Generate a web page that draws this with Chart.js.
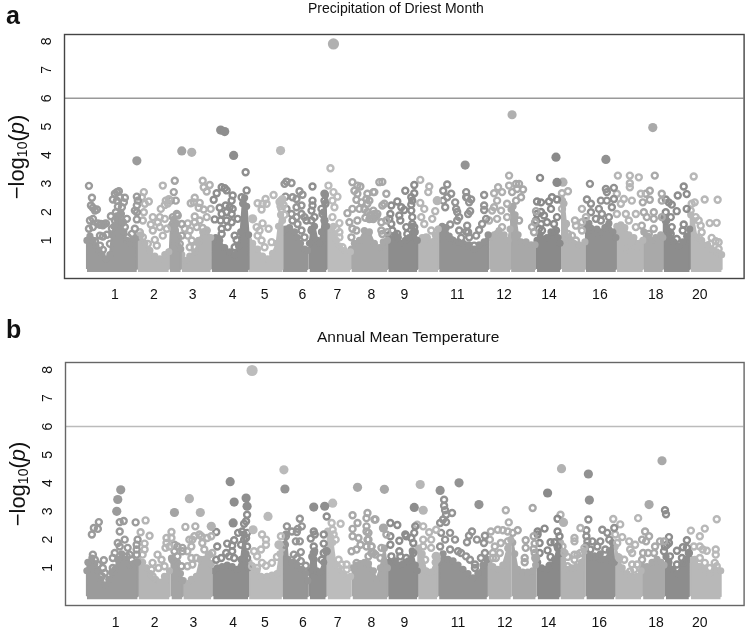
<!DOCTYPE html>
<html><head><meta charset="utf-8">
<script src="https://cdn.jsdelivr.net/npm/chart.js@4"></script>
<style>
html,body{margin:0;padding:0;background:#fff;width:750px;height:629px;overflow:hidden;font-family:"Liberation Sans",sans-serif;color:#111}
canvas{position:absolute;left:0}
.t{position:absolute;white-space:nowrap;line-height:1}
.yl{position:absolute;white-space:nowrap;font-size:22px;line-height:22px;transform:translate(-50%,-50%) rotate(-90deg)}
.yl sub{font-size:14px;vertical-align:-3px;line-height:0}
</style></head><body>
<canvas id="ca" width="750" height="312" style="top:0"></canvas>
<canvas id="cb" width="750" height="317" style="top:312px"></canvas>
<div class="t" style="left:6px;top:3px;font-size:25px;font-weight:bold">a</div>
<div class="t" style="left:6px;top:317px;font-size:25px;font-weight:bold">b</div>
<div class="t" style="left:308px;top:1px;font-size:14px">Precipitation of Driest Month</div>
<div class="t" style="left:317px;top:329px;font-size:15.5px">Annual Mean Temperature</div>
<div class="yl" style="left:17px;top:157px">−log<sub>10</sub>(<i>p</i>)</div>
<div class="yl" style="left:18px;top:484px">−log<sub>10</sub>(<i>p</i>)</div>
<script>
const yTicks=[1,2,3,4,5,6,7,8];
const xLabels=["1","2","3","4","5","6","7","8","9","11","12","14","16","18","20"];
const xTicksA=[115,154,193,233,265,303,338,372,405,458,505,550,601,657,701];
const xTicksB=[116,155,194,234,266,304,339,373,406,460,507,551,602,659,703];
const threshold=6;
const bandGreys=["#9b9b9b","#b5b5b5","#a4a4a4","#b2b2b2","#8e8e8e","#bababa","#959595","#8f8f8f","#bcbcbc","#a8a8a8","#8d8d8d","#b6b6b6","#939393","#b0b0b0","#a8a8a8","#8a8a8a","#b2b2b2","#919191","#b6b6b6","#a9a9a9","#8d8d8d","#b8b8b8"];

// dense lower mass of each chromosome block: position, upper -log10(p)
const massA=[
[87,1.0,90,1.15,93,1.0,96,.8,99,.65,102,.5,106,.35,110,.5,112,1.2,114,1.5,117,1.75,120,1.9,122,1.6,124,1.3,127,1.0,130,.9,134,1.05,137,1.1],
[138,1.1,141,1.2,145,.9,150,.65,155,.45,160,.35,165,.5,169,.6],
[170,.6,171,1.5,174,1.75,177,1.6,179,1.1,181,.7],
[182,.5,186,.3,190,.45,195,.6,199,1.0,203,1.3,207,1.35,211,1.1],
[212,.9,216,1.1,220,1.0,225,.75,230,.6,235,.5,239,.8,241,1.3,243,2.3,245,2.5,247,2.2,249,1.2],
[249,1.0,253,.9,258,.7,263,.45,268,.35,273,.55,277,.9,279,1.5,281,1.9,283,1.7],
[283,1.3,286,1.4,290,1.45,295,1.3,298,1.1,301,.9,305,.7,308,.65],
[310,.9,312,1.4,315,1.5,318,1.0,320,.9,322,1.3,324,2.0,326,2.6,327,1.5],
[328,1.5,331,1.4,334,1.5,337,1.0,340,.8,345,.65,351,.6],
[352,.7,355,.9,360,1.0,365,1.35,370,1.3,375,.9,380,.75,384,.95,388,1],
[389,1.2,392,1.05,396,1.2,399,1.1,402,.9,406,1.0,410,1.1,413,1.5,416,1.3,418,1.0],
[419,1.0,423,1.1,428,1.1,432,.95,436,1.2,439,1.4],
[440,1.4,443,1.5,447,1.45,450,1.15,454,1.0,459,.95,464,.9,470,.85,475,.7,480,.85,485,.95,489,1.2],
[491,1.1,495,1.2,500,1.35,505,1.2,509,1.0,511,1.4],
[512,2.1,514,2.2,516,1.9,519,1.2,522,.95,527,.95,532,.85,536,.85],
[538,1.0,541,1.2,544,1.05,548,1.1,552,1.3,556,1.3,559,1.1,561,.9],
[563,2.4,565,2.3,567,1.6,570,1.0,575,.9,580,.85,586,.95],
[587,1.7,590,1.6,594,1.35,598,1.4,602,1.3,606,1.45,610,1.6,614,1.3,617,1.1],
[618,1.5,622,1.55,626,1.45,630,1.2,635,1.1,640,.9,644,1.0],
[645,1.3,649,1.15,653,1.0,657,1.1,662,1.2,664,1.1],
[665,1.8,668,1.7,671,1.3,675,.95,680,.8,684,.95,688,1.15,691,1.4],
[692,1.9,695,1.7,698,1.1,703,1.0,709,.85,713,.7,718,.6,723,.5]];

const ringsA=[
[89,2.92,92,2.5,91,2.23,93,2.15,97,2.09,95,2.05,90,1.7,93,1.76,89,1.41,93,1.47,98,1.6,101,1.58,104,1.58,106,1.6,100,1.55,103,1.53,100,1.17,107,1.2,103,1.14,95,.97,100,.82,103,.67,110,.88,112,1.41,111,1.85,117,2.7,119,2.73,115,2.64,113,2.44,117,2.4,125,2.5,124,2.34,120,2.52,118,2.19,122,2.17,116,1.99,117,1.84,121,1.93,127,1.76,123,1.64,120,1.58,128,1.11,135,1.41,132,1.23,115,1.7,125,1.47,137,1.74,137,1.99,137,2.23,137,2.54,138,2.4,135,2.05],
[144,2.7,142,2.52,149,2.37,145,2.29,144,1.99,143,1.7,163,2.93,161,2.11,166,2.4,168,2.3,165,2.25,169,2.45,153,1.82,160,1.82,151,1.56,158,1.64,153,1.35,160,1.47,167,1.41,148,.88,155,1.02,163,1.17,157,.82,143,1.11,140,1.29,165,1.76],
[175,3.1,174,2.7,176,2.4,171,2.4,177,1.93,173,1.82,178,1.88,182,1.58,182,1.17,180,.88,173,1.58,175,1.35],
[203,3.1,210,2.95,204,2.87,207,2.72,195,2.5,191,2.31,200,2.32,194,2.34,199,2.15,204,2.09,211,2.11,195,1.84,200,1.7,207,1.82,188,1.6,195,1.64,185,1.41,190,1.35,188,1.17,192,1,190,.76,195,.76,199,.97,203,1.44,207,1.35,197,1.47],
[246,3.4,247,2.76,222,2.87,225,2.84,227,2.76,217,2.66,214,2.43,233,2.58,232,2.4,242,2.52,220,2.15,226,2.23,230,2.17,233,2.11,222,1.93,227,2,232,1.93,215,1.74,221,1.7,227,1.7,232,1.64,222,1.41,228,1.47,222,1.23,235,1.17,237,1.02,235,.76,238,1.76],
[274,2.6,258,2.31,266,2.46,263,2.29,262,2.09,267,2.29,257,1.47,263,1.6,260,1.35,269,1.41,258,1.17,262,1,265,.76,272,.94,280,2.35,283,2.45,281,2.2,284,2.25,282,2.1,285,1.9],
[285,2.99,287,3.07,292,3.02,286,2.54,293,2.52,300,2.73,303,2.61,297,2.46,302,2.23,297,2.17,292,1.93,297,1.82,302,1.93,305,1.82,293,1.7,298,1.58,287,2.11,302,1.35,305,1.11],
[313,2.9,313,2.4,313,2.23,312,2.05,312,1.7,315,1.82,307,1.7,312,1.35,322,2.11,325,2.64,325,2.4,323,1.93,326,2.29,325,1.7],
[331,3.54,329,2.93,334,2.7,338,2.54,333,2.4,335,2.17,333,1.82,340,1.61,337,1.41,340,1.29,340,1.11,343,.76],
[353,3.05,358,2.93,361,2.9,355,2.75,358,2.64,357,2.43,368,2.64,374,2.7,367,2.46,368,2.29,380,3.05,362,2.34,348,1.96,353,2.11,360,2.11,350,1.64,358,1.7,353,1.41,352,1.11,357,1.35,378,1.93,365,2.1,368,2,371,1.9,374,2.05,366,1.8,370,1.75,374,1.75,377,1.85,383,3.06,375,2.7,387,2.64,383,2.23,370,2.4,375,1.93,382,1.64,387,1.7,382,1.35,388,1.29,385,2.29,372,1.76,383,1.23],
[415,2.95,406,2.75,415,2.66,412,2.52,413,2.4,412,2.26,398,2.37,392,2.23,402,2.17,405,2.07,412,2.05,391,1.93,390,1.76,400,1.88,401,1.7,407,1.47,413,1.82,415,1.47,392,1.58,393,1.35,398,1.23,408,1.23,413,1.58],
[421,3.13,430,2.9,429,2.7,421,2.32,425,2.11,436,2.03,433,1.76,425,1.58,432,1.35,427,1.11,422,1.82],
[448,2.97,444,2.75,452,2.64,444,2.4,448,2.52,456,2.34,446,2.17,451,1.56,458,2,460,1.82,460,1.35,468,1.52,467,1.31,469,1.29,462,1.09,470,1.11,453,1,485,2.6,485,2.23,485,2.07,487,1.76,483,1.58,480,1.37,477,1.17,467,.82,475,.82,468,2.52,467,2.7,472,2.44,470,2.34,471,2.03,469,1.93,467,2.52,457,2.11,458,1.7],
[499,2.87,495,2.66,503,2.7,498,2.4,510,3.28,510,2.93,495,2.17,502,2.05,498,1.76,490,1.7,503,1.47,498,1.23,493,2.05,508,1.82,508,2.29],
[513,2.7,517,2.99,520,2.99,524,2.79,522,2.52,518,2.81,517,2.4,515,1.7,520,1.7,533,1.47,536,1.64,537,2.03,535,1.29],
[541,3.2,538,2.37,542,2.34,553,2.52,550,2.37,558,2.44,552,2.11,538,1.93,545,1.88,542,2,537,1.7,542,1.58,548,1.64,555,1.58,540,1.41,543,1.35,558,1.82,557,1.35],
[563,2.66,569,2.73,563,2.4,563,2.11,583,2.11,576,1.7,583,1.64,567,1.58,577,1.52,583,1.35,569,1.23,573,1.17,570,1.05,577,1,587,1.82],
[591,2.99,607,2.81,608,2.7,615,2.85,588,2.44,592,2.29,602,2.4,608,2.4,615,2.46,592,1.99,600,2.11,603,1.93,597,1.76,602,1.7,588,1.47,592,1.41,610,1.82,608,1.47,600,1.23,613,2.17],
[619,3.28,631,3.28,640,3.22,631,3.01,631,2.87,618,2.64,633,2.4,625,2.46,622,2.29,642,2.64,637,1.93,627,1.93,618,1.93,630,1.7,623,1.47,633,.76,637,.7,628,.7,637,1.47],
[656,3.28,647,2.64,651,2.75,651,2.43,644,2.34,645,1.99,655,1.99,655,1.76,648,1.82,643,1.52,655,1.41,650,1.23,663,2.64,663,2.4,663,1.82],
[685,2.9,679,2.58,688,2.63,667,2.44,670,2.34,673,2.26,678,2.03,688,2.11,667,1.99,672,1.82,685,1.56,684,1.35,673,1.47,672,1.23,678,1.05,667,1.7],
[695,3.25,706,2.44,719,2.43,693,2.29,696,2.34,692,2.05,711,1.61,718,1.62,697,1.82,700,1.7,702,1.52,703,1.29,700,1.11,713,1.09,720,.94,717,.97,712,.88,720,.7]];

const hitsA=[[137,3.8],[],[182,4.15],[192,4.1],[221,4.88,225,4.83,234,3.99],[281,4.16,253,1.76,282,2.4],[],[],[],[],[],[438,2.4],[466,3.65],[513,5.42],[],[557,3.93,558,3.04],[564,3.05],[607,3.85],[],[654,4.97],[],[]];
const peakA=[334,7.91];

const massB=[
[87,.9,88,1.2,92,1.35,95,1.15,98,.9,101,.6,105,.4,109,.6,112,.85,115,.95,118,1.3,122,1.5,126,1.3,130,1.1,134,1.15,138,1.2],
[139,1.25,143,1.2,147,1.0,151,.8,156,.6,160,.5,165,.7,170,.9],
[172,1.35,175,1.25,178,1.2,181,.8,183,.55],
[184,.55,188,.45,192,.6,197,.7,201,1.3,205,1.3,209,1.45,212,1.15],
[214,.9,218,1.0,223,1.05,228,1.1,233,1.05,238,.95,242,1.3,245,2.2,247,1.5,249,1.0],
[250,1.2,253,1.0,258,.9,262,.7,268,.7,273,.75,278,.8,281,1.5,283,1.7],
[284,1.5,287,2.2,289,1.3,293,1.2,298,1.1,303,.95,307,.8,309,.55],
[311,.9,313,1.4,316,1.6,318,.9,321,.85,325,1.2,327,1.6],
[329,2.3,332,2.1,334,1.9,337,1.1,340,.9,345,.8,352,.7],
[354,1.0,358,1.1,362,1.15,366,1.2,370,1.15,375,.9,378,.6,382,1.0,386,1.7,389,1.0],
[390,1.2,393,1.2,397,1.25,401,1.1,405,1.15,410,1.25,414,1.6,417,1.1,419,.9],
[420,1.7,424,1.5,428,.9,433,.85,437,1.2,439,1.3],
[441,1.2,445,1.5,450,1.3,455,1.25,460,1.1,465,.95,470,.8,475,.65,480,.8,485,1.1,489,1.3],
[491,1.2,495,1.05,500,.95,505,1.1,510,1.7,513,2],
[515,1.9,517,1.5,520,.95,525,.85,530,.85,535,.9,538,1.1],
[540,1.2,544,1.0,549,.95,553,1.1,557,1.3,560,1.7,562,1.5],
[563,1.9,566,1.5,569,.95,574,1.0,579,1.05,584,1.2,587,1.6],
[589,1.8,593,1.4,598,1.4,603,1.5,608,1.3,612,1.6,615,1.9,617,1.2],
[618,1.75,621,1.4,625,1.0,630,.8,635,.7,640,.7,644,.9],
[646,1.05,650,1.05,655,1.2,660,1.3,664,1.2,667,1.1],
[669,1.4,672,1.2,676,.95,680,.8,685,1.1,689,1.3,692,1.5],
[694,1.3,698,1.3,703,1.05,708,.95,713,.8,718,.95,724,.9]];

const ringsB=[
[92,2.18,94,2.41,99,2.62,98,2.38,93,1.47,95,1.29,104,1.27,98,1.12,103,1,105,.82,102,.71,113,1.35,120,2.62,124,2.66,120,2.29,136,2.61,118,1.88,125,2,128,1.71,120,1.76,138,2,137,1.82,137,1.65,137,1.47,130,1.47,132,1.29,115,1.53,113,1,127,1.41],
[146,2.68,141,2.26,150,2.14,145,1.86,145,1.65,143,1.47,158,1.47,153,1.18,162,1.29,152,.94,153,.71,159,1,165,1.06,166,1.71,172,2.27,172,2.06,167,2.06,167,1.88,170,1.76],
[175,1.82,178,1.76,183,1.71,183,1.59,178,1.41,175,1.59,173,1.29,182,1.06],
[186,2.45,196,2.47,190,2,195,2.12,200,2.18,202,2.12,193,2,192,1.76,188,1.59,192,1.35,197,1.35,188,1.06,193,1.12,208,2.06,212,2.12,203,1.88,205,1.65,213,1.53,210,1.47],
[217,2.27,218,1.76,228,1.86,233,1.79,235,1.98,239,2.24,242,1.82,245,1.35,248,1.35,248,1.76,227,1.53,233,1.59,230,1.41,217,1.29,222,1.35,235,1.35,248,2.88,247,2.65,245,2.56,243,2.29,247,2.06,248,2.24,245,2],
[263,2.18,267,2,267,1.82,255,1.59,262,1.65,258,1.41,263,1.18,267,1.08,273,1.18,278,1.39,282,2.12,253,1.06,258,1],
[288,2.47,293,2.29,298,2.27,301,2.74,303,2.47,299,2.38,297,1.94,301,1.94,287,2.12,286,1.82,295,1.47,302,1.56,298,1.35,302,1.24,307,1.08],
[312,2.04,315,2.29,316,2.18,315,1.76,315,1.53,315,1.29,325,2.18,325,1.86,325,1.53,328,1.59,323,1.29,328,2.82],
[333,2.59,342,2.56,334,2.35,335,2.18,337,2,340,1.29,343,1.12,348,1.12,348,.94,340,1],
[354,2.86,359,2.59,354,2.38,354,2.12,360,2.06,369,2.94,368,2.76,377,2.71,368,2.47,368,2.29,369,2,362,1.82,368,1.76,373,1.76,353,1.59,358,1.65,373,1.53,377,1.47,370,1.41,358,1.18,376,2.71,370,2.24,370,2,373,1.76,375,1.53,382,1.35,383,1.71,388,2.18],
[392,2.59,399,2.52,407,2.18,401,1.96,413,2.06,408,2.12,417,2.47,416,2.24,392,2.12,392,1.82,415,1.88,401,1.59,402,1.41,393,1.41,408,1.35,415,1.53],
[419,2.53,425,2.47,431,2.26,425,2,433,2,433,1.71,425,1.76,427,1.29,420,1.65,438,2.35],
[446,3.41,446,3.2,447,3.04,454,2.94,448,2.88,448,2.62,442,2.59,445,2.71,443,2.24,452,2.24,457,2,447,2,442,1.76,452,1.65,460,1.59,463,1.53,468,1.41,472,1.29,477,1.12,474,2.29,471,2.14,469,1.91,479,2,487,2.14,486,1.88,487,1.53,483,1.35,477,1],
[508,3.04,511,2.61,493,2.29,500,2.35,505,2.33,510,2.29,492,2,497,1.76,503,1.88,495,1.53,502,1.53,498,1.35,510,1.94,495,1.35],
[535,3.12,520,2.33,515,2.24,528,1.98,536,2.12,528,1.71,537,1.86,536,1.67,527,1.35,527,1.2,537,1.53],
[547,2.39,540,2.29,542,1.88,553,1.91,557,1.91,550,1.62,553,1.39,552,1.08,560,2.74,560,2.29,562,2.12,560,1.76,540,2.18,542,1.53],
[563,2.88,577,2.06,577,1.94,583,2.41,570,1.39,577,1.47,580,1.47,583,1.53,577,1.29,570,1.06,587,1.71,565,1.76,567,1.53],
[591,2.71,589,2.33,589,2.12,605,2.35,610,2.24,617,2.41,590,1.94,595,1.94,603,1.94,612,2,600,1.76,593,1.65,608,1.65,602,1.35,612,1.29,597,1.41],
[616,2.73,623,2.54,641,2.76,618,2.18,625,2.09,632,1.94,638,1.82,620,1.88,633,1.65,635,1.53,622,1.35,627,1.29,635,1.12,640,1.12,633,.88,637,.94],
[648,2.29,652,2.12,645,2,649,1.94,646,1.53,651,1.53,658,1.76,657,1.53,663,1.94,667,1.94,645,1.29],
[668,3.04,669,2.9,672,2.09,672,1.88,668,1.76,667,1.59,680,1.61,686,1.73,690,1.98,690,1.71,692,1.53,673,1.41,685,1.35,680,1.12,687,1.18,670,1.82],
[694,2.32,708,2.39,720,2.72,703,2.12,697,1.76,703,1.76,706,1.65,710,1.61,719,1.65,719,1.47,718,1.18,720,1.06,703,1.35,713,1,708,1.18]];

const hitsB=[[121,3.76,118,3.42,117,3],[],[175,2.96],[190,3.45,201,2.96,212,2.47],[231,4.05,235,3.33,247,3.47,248,3.18,234,2.59],[269,2.82,254,2.35,280,1.82,285,4.47],[286,3.79],[315,3.15,326,3.18],[334,3.29],[359,3.85,386,3.78,385,2.41],[416,3.14],[422,3.95,425,3.04,438,1.41],[442,3.74,461,4.01,481,3.24],[],[538,1.35],[550,3.65],[564,4.51,566,2.61],[591,4.32,592,3.4],[],[652,3.24,665,4.79],[],[]];
const peakB=[253,7.98];

const pts=f=>{const o=[];for(let i=0;i<f.length;i+=2)o.push({x:f[i],y:f[i+1]});return o};
const framePlugin={id:'frame',afterDraw(c,_,o){const a=c.chartArea,g=c.ctx;g.save();g.strokeStyle=o.color;g.lineWidth=o.width;g.strokeRect(a.left+.5,a.top+.5,a.width,a.height);g.restore()}};

function panel(id,mass,rings,hits,peak,xTicks,cfg){
  const ds=[];
  rings.forEach((r,i)=>ds.push({data:pts(r),showLine:false,pointStyle:'circle',pointRadius:3,pointBorderWidth:2.4,pointBackgroundColor:'rgba(0,0,0,0)',pointBorderColor:bandGreys[i],order:2}));
  hits.forEach((h,i)=>{if(h.length)ds.push({data:pts(h),showLine:false,pointRadius:4.6,pointBorderWidth:0,pointBackgroundColor:bandGreys[i],order:1})});
  ds.push({data:pts(peak),showLine:false,pointRadius:5.6,pointBorderWidth:0,pointBackgroundColor:cfg.peak,order:1});
  mass.forEach((m,i)=>{const p=pts(m);p.unshift({x:m[0],y:0});p.push({x:m[m.length-2],y:0});
    ds.push({data:p,showLine:true,tension:0,pointRadius:c=>(c.dataIndex===0||c.dataIndex===p.length-1)?0:3.6,pointBorderWidth:0,pointBackgroundColor:bandGreys[i],borderColor:bandGreys[i],borderWidth:2,borderJoinStyle:'round',backgroundColor:bandGreys[i],fill:{value:-0.11},order:3})});
  ds.push({data:[{x:cfg.xMin,y:threshold},{x:cfg.xMax,y:threshold}],showLine:true,pointRadius:0,borderColor:cfg.line,borderWidth:1.5,order:0});
  new Chart(document.getElementById(id),{type:'scatter',data:{datasets:ds},plugins:[framePlugin],options:{
    responsive:false,animation:false,devicePixelRatio:1,
    layout:{padding:{top:cfg.top,right:cfg.right,left:0,bottom:0}},
    plugins:{legend:{display:false},tooltip:{enabled:false},title:{display:false},frame:{color:cfg.frame,width:1.4}},
    scales:{
      x:{type:'linear',min:cfg.xMin,max:cfg.xMax,grid:{display:false},border:{display:false},
        afterBuildTicks:s=>{s.ticks=xTicks.map(v=>({value:v}))},
        afterFit:s=>{s.height=cfg.axisH},
        ticks:{autoSkip:false,maxRotation:0,minRotation:0,padding:cfg.xPad,color:'#111',font:{family:'Liberation Sans',size:14},callback:v=>xLabels[xTicks.indexOf(v)]}},
      y:{type:'linear',min:cfg.yMin,max:cfg.yMax,grid:{display:false},border:{display:false},
        afterBuildTicks:s=>{s.ticks=yTicks.map(v=>({value:v}))},
        afterFit:s=>{s.width=cfg.xMin===64?64:65},
        ticks:{minRotation:90,maxRotation:90,crossAlign:'center',padding:5,color:'#111',font:{family:'Liberation Sans',size:14}}}
    }}});
}
panel('ca',massA,ringsA,hitsA,peakA,xTicksA,{xMin:64,xMax:745,yMin:-0.32,yMax:8.26,top:34,right:5,axisH:34,xPad:1,line:'#999',frame:'#444',peak:'#b0b0b0'});
panel('cb',massB,ringsB,hitsB,peakB,xTicksB,{xMin:65,xMax:747,yMin:-0.31,yMax:8.28,top:50,right:3,axisH:24,xPad:2,line:'#bbb',frame:'#666',peak:'#bcbcbc'});
</script>
</body></html>
